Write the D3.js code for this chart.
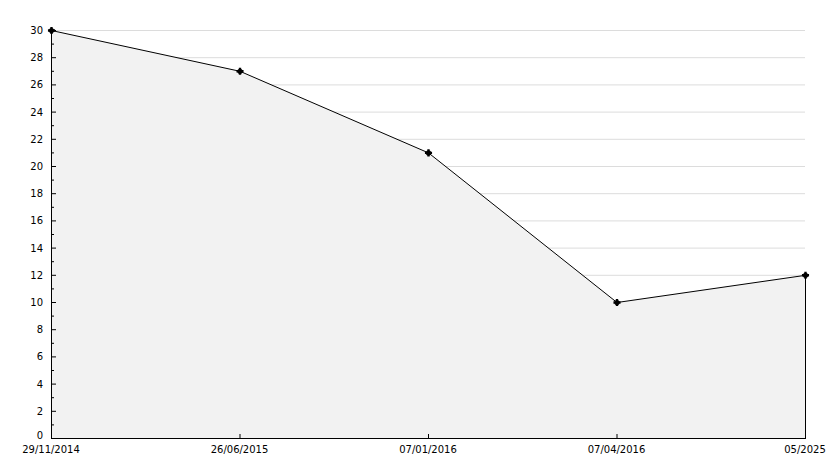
<!DOCTYPE html>
<html><head><meta charset="utf-8">
<script src="https://cdn.jsdelivr.net/npm/d3@7"></script>
<style>body{margin:0;background:#fff}svg{display:block}text{font-family:"DejaVu Sans",sans-serif;font-size:10px;fill:#000}</style>
</head><body><svg id="c" width="834" height="468"></svg>
<script>
const categories = ["29/11/2014","26/06/2015","07/01/2016","07/04/2016","05/2025"];
const values = [30, 27, 21, 10, 12];
const yTicks = [0,2,4,6,8,10,12,14,16,18,20,22,24,26,28,30];
const yMinor = [1,3,5,7,9,11,13,15,17,19,21,23,25,27,29];

const svg = d3.select("#c");
const L = 51, R = 805, T = 30, B = 438;
const x = d3.scalePoint().domain(categories).range([L, R]);
const y = d3.scaleLinear().domain([0, 30]).range([B, T]);

// gridlines
svg.append("g").selectAll("line").data(yTicks.filter(d => d > 0)).join("line")
  .attr("x1", L).attr("x2", R).attr("y1", d => y(d) + 0.5).attr("y2", d => y(d) + 0.5)
  .attr("stroke", "#dcdcdc").attr("stroke-width", 1);

const data = categories.map((c, i) => ({c, v: values[i]}));
// area
svg.append("path").datum(data)
  .attr("d", d3.area().x(d => x(d.c) + 0.5).y0(B + 0.5).y1(d => y(d.v) + 0.5))
  .attr("fill", "#f2f2f2");
// right edge
svg.append("line").attr("x1", R + 0.5).attr("x2", R + 0.5)
  .attr("y1", y(values[values.length - 1])).attr("y2", B).attr("stroke", "#000");
// line
svg.append("path").datum(data)
  .attr("d", d3.line().x(d => x(d.c) + 0.5).y(d => y(d.v) + 0.5))
  .attr("fill", "none").attr("stroke", "#000").attr("stroke-width", 1);
// markers
const mk = svg.append("g").selectAll("g").data(data).join("g")
  .attr("transform", d => `translate(${x(d.c) + 0.5},${y(d.v) + 0.5})`);
mk.append("circle").attr("r", 2.6).attr("fill", "#000");
mk.append("path").attr("d", d3.symbol().type(d3.symbolCross).size(28)).attr("fill", "#000");

// y axis
svg.append("line").attr("x1", L + 0.5).attr("x2", L + 0.5).attr("y1", T - 2).attr("y2", B + 0.5).attr("stroke", "#000");
svg.append("g").selectAll("line").data(yTicks).join("line")
  .attr("x1", L).attr("x2", L + 5).attr("y1", d => y(d) + 0.5).attr("y2", d => y(d) + 0.5).attr("stroke", "#000");
svg.append("g").selectAll("line").data(yMinor).join("line")
  .attr("x1", L).attr("x2", L + 3).attr("y1", d => y(d) + 0.5).attr("y2", d => y(d) + 0.5).attr("stroke", "#000");
svg.append("g").selectAll("text").data(yTicks).join("text")
  .attr("x", 43).attr("y", d => d === 0 ? y(d) + 1 : y(d) + 4)
  .attr("text-anchor", "end").text(d => d);

// x axis
svg.append("line").attr("x1", L).attr("x2", R + 1).attr("y1", B + 0.5).attr("y2", B + 0.5).attr("stroke", "#000");
svg.append("g").selectAll("line").data(categories).join("line")
  .attr("x1", d => x(d) + 0.5).attr("x2", d => x(d) + 0.5).attr("y1", B - 4).attr("y2", B).attr("stroke", "#000");
svg.append("g").selectAll("text").data(categories).join("text")
  .attr("x", d => x(d)).attr("y", 453).attr("text-anchor", "middle").text(d => d);
</script></body></html>
